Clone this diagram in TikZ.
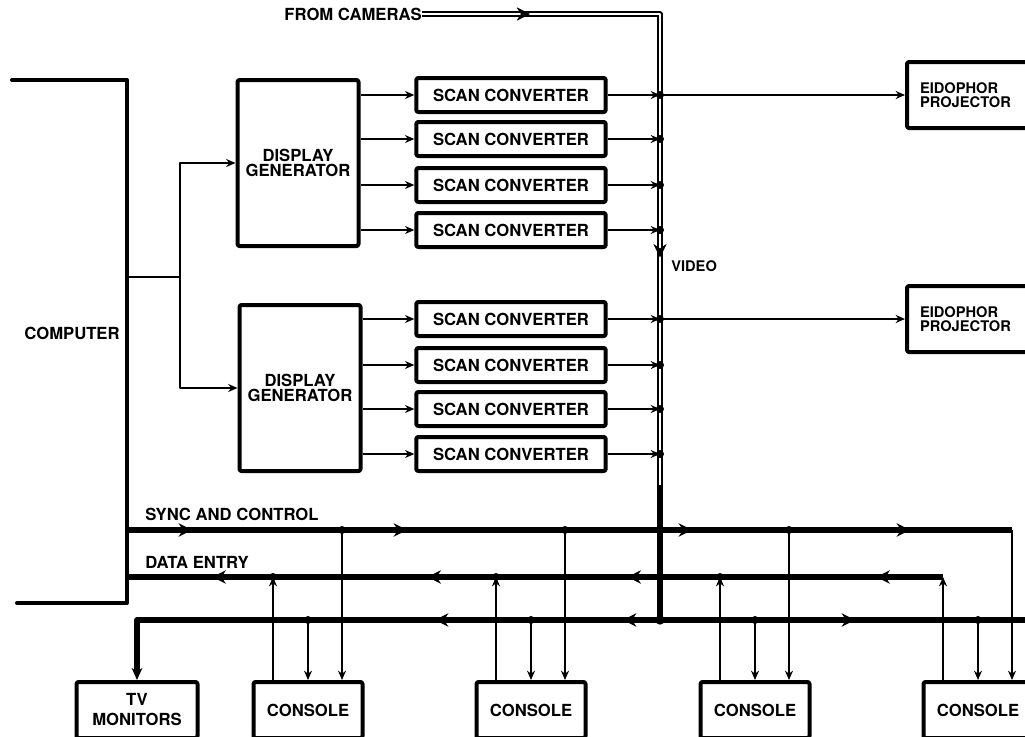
\documentclass[tikz,border=0pt]{standalone}
\usepackage{fontspec}
\setmainfont{TeX Gyre Heros}
\usetikzlibrary{arrows.meta, calc, decorations.markings, positioning}

\begin{document}
\begin{tikzpicture}[x=0.75pt, y=-0.75pt, line join=round,
  lbl/.style={font=\bfseries\fontsize{12.5}{11}\selectfont, inner sep=0pt, align=center},
  box/.style={draw, line width=3pt, rounded corners=1.5pt, lbl},
  scanbox/.style={box, minimum width=142pt, minimum height=25.5pt},
  genbox/.style={box, minimum width=90.75pt, minimum height=124.5pt},
  projbox/.style={box, minimum width=94.5pt, minimum height=49.5pt, text width=75pt,
    align=left, font=\bfseries\fontsize{11}{11}\selectfont},
  conbox/.style={box, minimum width=81.75pt, minimum height=42pt},
  tip/.style={-{Stealth[length=7pt, width=6pt]}},
  wire/.style={line width=2.2pt, tip},
  tap/.style={line width=2.2pt, tip},
  bus/.style={line width=4pt},
  vid/.style={double, line width=1pt, double distance=2.2pt},
  barrow/.style={postaction={decorate, decoration={markings,
    mark=at position #1 with {\arrow{Stealth[length=10pt, width=10pt]}}}}}
]
  \useasboundingbox (0,0) rectangle (1025,736);

  % computer
  \draw[line width=3pt, line cap=round] (12,80) -- (127,80) -- (127,603) -- (17,603);
  \node[lbl] (cpulbl) at (72,333) {COMPUTER};
  \coordinate (cpu) at (127,277);
  \coordinate (split) at (180,277);

  % display generators
  \node[genbox] (gen1) at (298,163) {DISPLAY\\GENERATOR};
  \node[genbox] (gen2) at (300,388) {DISPLAY\\GENERATOR};

  % scan converters
  \foreach \i/\y in {1/95, 2/139, 3/185, 4/230, 5/319, 6/365, 7/409, 8/454}
    \node[scanbox] (sc\i) at (511,\y) {SCAN CONVERTER};

  % projectors
  \node[projbox] (proj1) at (970,95) {EIDOPHOR\\PROJECTOR};
  \node[projbox] (proj2) at (970,319) {EIDOPHOR\\PROJECTOR};

  % consoles
  \node[conbox, minimum width=90.75pt] (tv) at (137,710) {TV\\[4pt]MONITORS};
  \node[conbox] (con1) at (308,710) {CONSOLE};
  \node[conbox] (con2) at (531,710) {CONSOLE};
  \node[conbox] (con3) at (755,710) {CONSOLE};
  \node[conbox] (con4) at (978,710) {CONSOLE};

  % computer to generators
  \draw[line width=2.2pt] (cpu) -- (split);
  \draw[wire] (split) |- (gen1.west);
  \draw[wire] (split) |- (gen2.west);
  \foreach \i in {1,...,4}
    \draw[wire] (gen1.east |- sc\i) -- (sc\i.west);
  \foreach \i in {5,...,8}
    \draw[wire] (gen2.east |- sc\i) -- (sc\i.west);

  % video
  \node[lbl, anchor=east] (cams) at (422,14) {FROM CAMERAS};
  \coordinate (vtop) at (660,14);
  \coordinate (vmid) at (660,485);
  \coordinate (vjoin) at (660,620);
  \coordinate (vend) at (1035,620);
  \draw[vid] (cams.east) -- (vtop) -- (vmid);
  \path[barrow=81pt, barrow=361pt] (cams.east) -- (vtop) -- (vmid);
  \draw[bus] (vmid) -- (vjoin);
  \node[lbl, anchor=west, font=\bfseries\fontsize{11}{11}\selectfont] (vidlbl) at (671,266) {VIDEO};

  \foreach \i in {1,...,8} {
    \draw[wire] (sc\i.east) -- (sc\i.east -| vtop);
    \fill (sc\i.east -| vtop) circle (3pt);
  }
  \draw[wire, line width=1.6pt] (sc1.east -| vtop) -- (proj1.west);
  \draw[wire, line width=1.6pt] (sc5.east -| vtop) -- (proj2.west);

  % buses
  \coordinate (sync) at (127,530);
  \coordinate (data) at (127,577);
  \node[lbl, anchor=west] (synclbl) at (145,514) {SYNC AND CONTROL};
  \node[lbl, anchor=west] (datalbl) at (145,562) {DATA ENTRY};

  \foreach \c in {1,...,4} {
    \coordinate (d\c) at ($(con\c.north)+(-35,0)$);
    \coordinate (v\c) at (con\c.north);
    \coordinate (s\c) at ($(con\c.north)+(34,0)$);
  }

  \draw[bus, barrow=48.75pt, barrow=210pt, barrow=423.75pt, barrow=587.25pt]
    (sync) -- (sync -| s4);
  \draw[bus, barrow=49.9pt, barrow=236.6pt, barrow=386.6pt, barrow=547.9pt]
    (data -| d4) -- (data);
  \draw[bus, -{Stealth[length=9pt, width=8pt]}, barrow=27.75pt, barrow=168.75pt]
    (vjoin) -- (vjoin -| tv) -- (tv.north);
  \draw[bus, barrow=146.25pt] (vjoin) -- (vend);
  \fill (vjoin) circle (3.5pt);

  % console taps
  \foreach \c in {1,...,4} {
    \draw[tap] (d\c) -- (d\c |- data);
    \draw[tap] (v\c |- vjoin) -- (v\c);
    \draw[tap] (s\c |- sync) -- (s\c);
  }
  \foreach \c in {1,...,3} {
    \fill (d\c |- data) circle (3pt);
    \fill (v\c |- vjoin) circle (3pt);
    \fill (s\c |- sync) circle (3pt);
  }
  \fill (v4 |- vjoin) circle (3pt);
\end{tikzpicture}
\end{document}
